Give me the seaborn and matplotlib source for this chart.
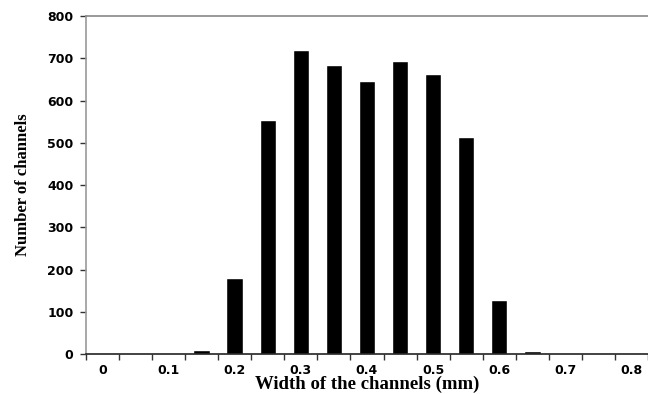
import numpy as np
import matplotlib.pyplot as plt
import pandas as pd
import seaborn as sns

WIDTHS = ["0", "0.05", "0.1", "0.15", "0.2", "0.25", "0.3", "0.35", "0.4",
          "0.45", "0.5", "0.55", "0.6", "0.65", "0.7", "0.75", "0.8"]
COUNTS = [0, 0, 0, 10, 180, 555, 720, 684, 646, 693, 662, 515, 127, 7, 0, 0, 0]
Y_TICKS = [0, 100, 200, 300, 400, 500, 600, 700, 800]

df = pd.DataFrame({"width": WIDTHS, "count": COUNTS})

sns.set_style("white")
fig = plt.figure(figsize=(6.48, 3.94), dpi=100)
ax = fig.add_axes([0.1327, 0.1015, 0.8673, 0.8575])

sns.barplot(data=df, x="width", y="count", order=WIDTHS, color="black",
            width=0.5, saturation=1, ax=ax)

ax.set_ylim(0, 800)
ax.set_xlim(-0.5, len(WIDTHS) - 0.5)
ax.set_yticks(Y_TICKS)

# labels under every other bar, tick marks on the bin edges
ax.set_xticks(np.arange(0, len(WIDTHS), 2))
ax.set_xticklabels(WIDTHS[::2])
ax.set_xticks(np.arange(-0.5, len(WIDTHS), 1), minor=True)
ax.tick_params(axis="x", which="major", length=0, pad=7)
ax.tick_params(axis="x", which="minor", length=4, width=1, color="#333333",
               direction="out", bottom=True)
ax.tick_params(axis="y", length=4, width=1, color="#333333", direction="out",
               left=True, pad=5)

for lab in ax.get_xticklabels() + ax.get_yticklabels():
    lab.set_fontfamily("DejaVu Sans")
    lab.set_fontweight("bold")
    lab.set_fontsize(9)
    lab.set_color("black")

ax.set_xlabel("Width of the channels (mm)", family="Liberation Serif",
              fontweight="bold", fontsize=13.5, labelpad=-1, color="black")
ax.set_ylabel("Number of channels", family="Liberation Serif",
              fontweight="bold", fontsize=12, labelpad=12, color="black")

ax.spines["right"].set_visible(False)
ax.spines["top"].set_color("#888888")
ax.spines["left"].set_color("#999999")
ax.spines["bottom"].set_color("#222222")
for s in ax.spines.values():
    s.set_linewidth(1.2)

fig.savefig("out.png", dpi=100)
